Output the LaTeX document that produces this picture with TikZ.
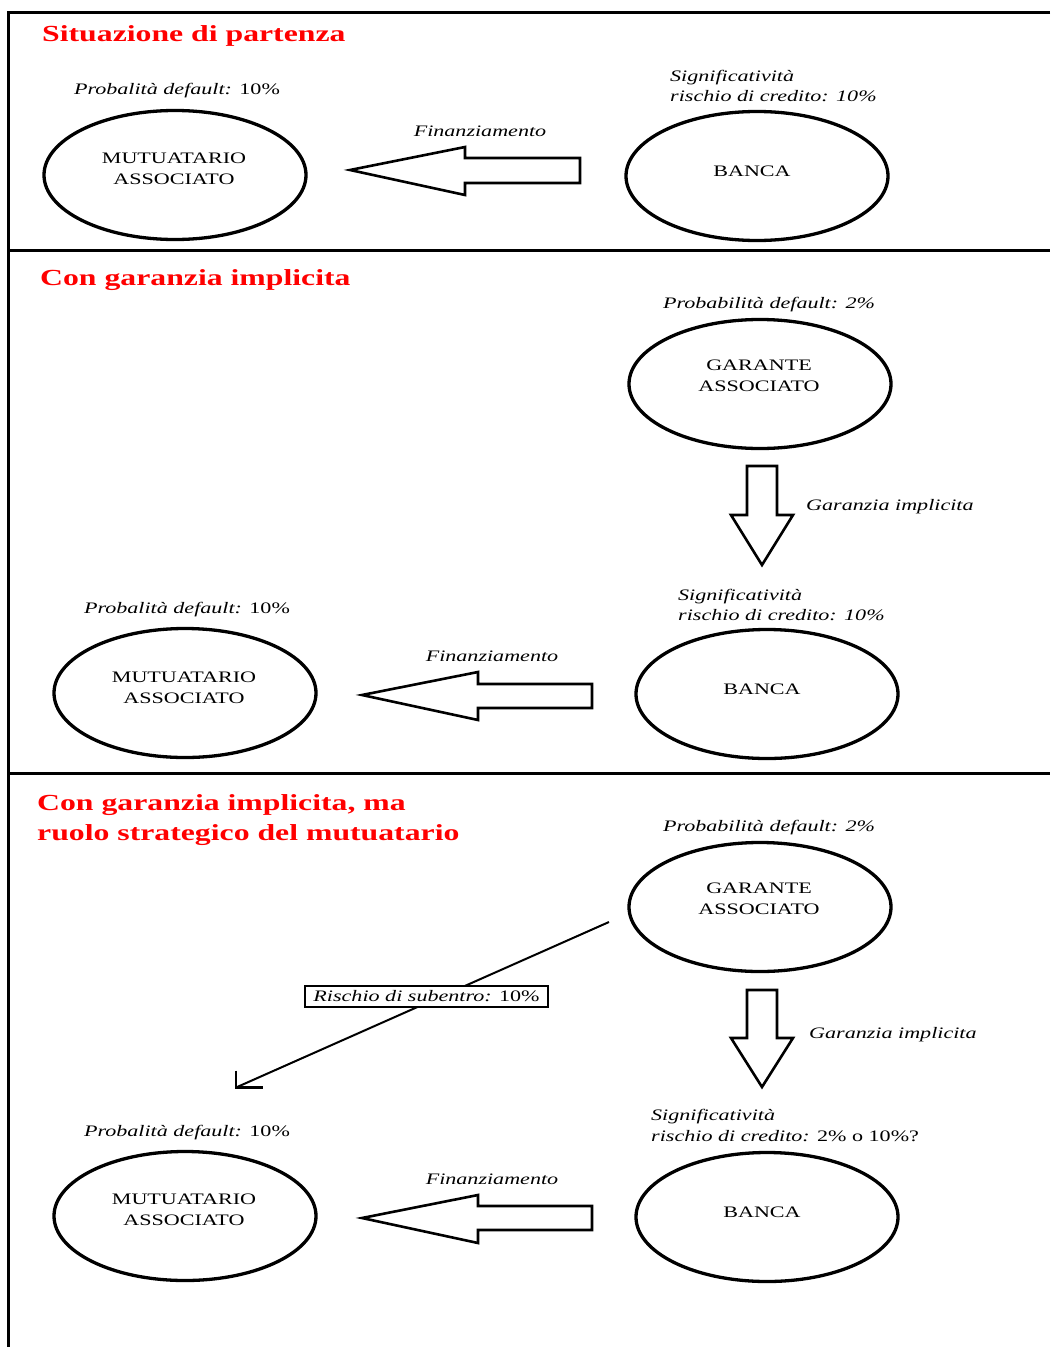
\documentclass[tikz,border=0pt]{standalone}
\usepackage{fontspec}
\usepackage{graphicx}
\setmainfont{Liberation Serif}
\usetikzlibrary{shapes.geometric,calc}
\newcommand{\W}[1]{\scalebox{1.38}[1]{#1}}
\newcommand{\twoline}[2]{\W{\begin{tabular}{@{}c@{}}#1\\#2\end{tabular}}}
\tikzset{
  oval/.style={ellipse, draw, line width=3.3pt, minimum width=262pt, minimum height=129pt, inner sep=0pt},
  oval text/.style={inner sep=0pt, font=\fontsize{16}{21}\selectfont},
  lbl/.style={inner sep=0pt, font=\fontsize{16}{20}\selectfont},
  title/.style={inner sep=0pt, anchor=base west, text=red, font=\fontsize{23}{30}\selectfont\bfseries},
  blockarrow/.style={draw, line width=2.6pt, line join=miter, fill=white},
  frame/.style={line width=2.2pt},
  subbox/.style={draw, line width=2pt, fill=white, inner sep=1.5pt, minimum width=243pt, minimum height=21pt, font=\fontsize{16}{20}\selectfont}
}
\begin{document}
\begin{tikzpicture}[x=1pt,y=-1pt]
\useasboundingbox (0,0) rectangle (1050,1347);
\fill[white] (0,0) rectangle (1050,1347);
% frame
\coordinate (fTL) at (8.5,12.5);
\coordinate (fTR) at (1050,12.5);
\coordinate (fBL) at (8.5,1347);
\coordinate (d1L) at (8.5,250.5);
\coordinate (d1R) at (1050,250.5);
\coordinate (d2L) at (8.5,773.5);
\coordinate (d2R) at (1050,773.5);
\draw[frame] (fTR) -- (fTL) -- (fBL);
\draw[frame] (d1L) -- (d1R);
\draw[frame] (d2L) -- (d2R);

% ===== Section 1 =====
\node[title] (t1) at (42,41) {\W{Situazione di partenza}};
\node[oval] (m1) at (175,175) {};
\node[oval text] (m1t) at (174,170) {\twoline{MUTUATARIO}{ASSOCIATO}};
\node[oval] (b1) at (757,176) {};
\node[oval text] (b1t) at (752,171) {\W{BANCA}};
\node[lbl, anchor=base] (p1) at (177,94) {\W{\textit{Probalità default:} 10\%}};
\node[lbl, anchor=base west] (s1a) at (670,81) {\W{\textit{Significatività}}};
\node[lbl, anchor=base west] (s1b) at (670,101) {\W{\textit{rischio di credito: 10\%}}};
\node[lbl, anchor=base] (f1) at (480,136) {\W{\textit{Finanziamento}}};
\draw[blockarrow] (350,170) -- (465,147) -- (465,158) -- (580,158) -- (580,183) -- (465,183) -- (465,195) -- cycle;

% ===== Section 2 =====
\node[title] (t2) at (40,285) {\W{Con garanzia implicita}};
\node[lbl, anchor=base] (p2g) at (769,308) {\W{\textit{Probabilità default: 2\%}}};
\node[oval] (g2) at (760,384) {};
\node[oval text] (g2t) at (759,377) {\twoline{GARANTE}{ASSOCIATO}};
\draw[blockarrow] (762,565) -- (731,515) -- (747,515) -- (747,466) -- (777,466) -- (777,515) -- (793,515) -- cycle;
\node[lbl, anchor=base west] (gi2) at (806,510) {\W{\textit{Garanzia implicita}}};
\node[lbl, anchor=base west] (s2a) at (678,600) {\W{\textit{Significatività}}};
\node[lbl, anchor=base west] (s2b) at (678,620) {\W{\textit{rischio di credito: 10\%}}};
\node[oval] (b2) at (767,694) {};
\node[oval text] (b2t) at (762,689) {\W{BANCA}};
\node[oval] (m2) at (185,693) {};
\node[oval text] (m2t) at (184,689) {\twoline{MUTUATARIO}{ASSOCIATO}};
\node[lbl, anchor=base] (p2) at (187,613) {\W{\textit{Probalità default:} 10\%}};
\node[lbl, anchor=base] (f2) at (492,661) {\W{\textit{Finanziamento}}};
\draw[blockarrow] (362,695) -- (478,672) -- (478,684) -- (592,684) -- (592,708) -- (478,708) -- (478,720) -- cycle;

% ===== Section 3 =====
\node[title] (t3a) at (37,810) {\W{Con garanzia implicita, ma}};
\node[title] (t3b) at (37,840) {\W{ruolo strategico del mutuatario}};
\node[lbl, anchor=base] (p3g) at (769,831) {\W{\textit{Probabilità default: 2\%}}};
\node[oval] (g3) at (760,907) {};
\node[oval text] (g3t) at (759,900) {\twoline{GARANTE}{ASSOCIATO}};
\draw[blockarrow] (762,1087) -- (731,1038) -- (747,1038) -- (747,990) -- (777,990) -- (777,1038) -- (793,1038) -- cycle;
\node[lbl, anchor=base west] (gi3) at (809,1038) {\W{\textit{Garanzia implicita}}};
\node[lbl, anchor=base west] (s3a) at (651,1120) {\W{\textit{Significatività}}};
\node[lbl, anchor=base west] (s3b) at (651,1141) {\W{\textit{rischio di credito:} 2\% o 10\%?}};
\node[oval] (b3) at (767,1217) {};
\node[oval text] (b3t) at (762,1212) {\W{BANCA}};
\node[oval] (m3) at (185,1216) {};
\node[oval text] (m3t) at (184,1211) {\twoline{MUTUATARIO}{ASSOCIATO}};
\node[lbl, anchor=base] (p3) at (187,1136) {\W{\textit{Probalità default:} 10\%}};
\node[lbl, anchor=base] (f3) at (492,1184) {\W{\textit{Finanziamento}}};
\draw[blockarrow] (362,1218) -- (478,1195) -- (478,1206) -- (592,1206) -- (592,1230) -- (478,1230) -- (478,1243) -- cycle;
% takeover risk
\coordinate (rs) at (609,922);
\coordinate (re) at (236,1087.5);
\draw[line width=2pt] (rs) -- (re);
\draw[line width=2.2pt, line join=miter] ($(re)+(0,-17)$) -- (re) -- ($(re)+(27,0)$);
\node[subbox] (rl) at (426.5,996.5) {\W{\textit{Rischio di subentro:} 10\%}};
\end{tikzpicture}
\end{document}
